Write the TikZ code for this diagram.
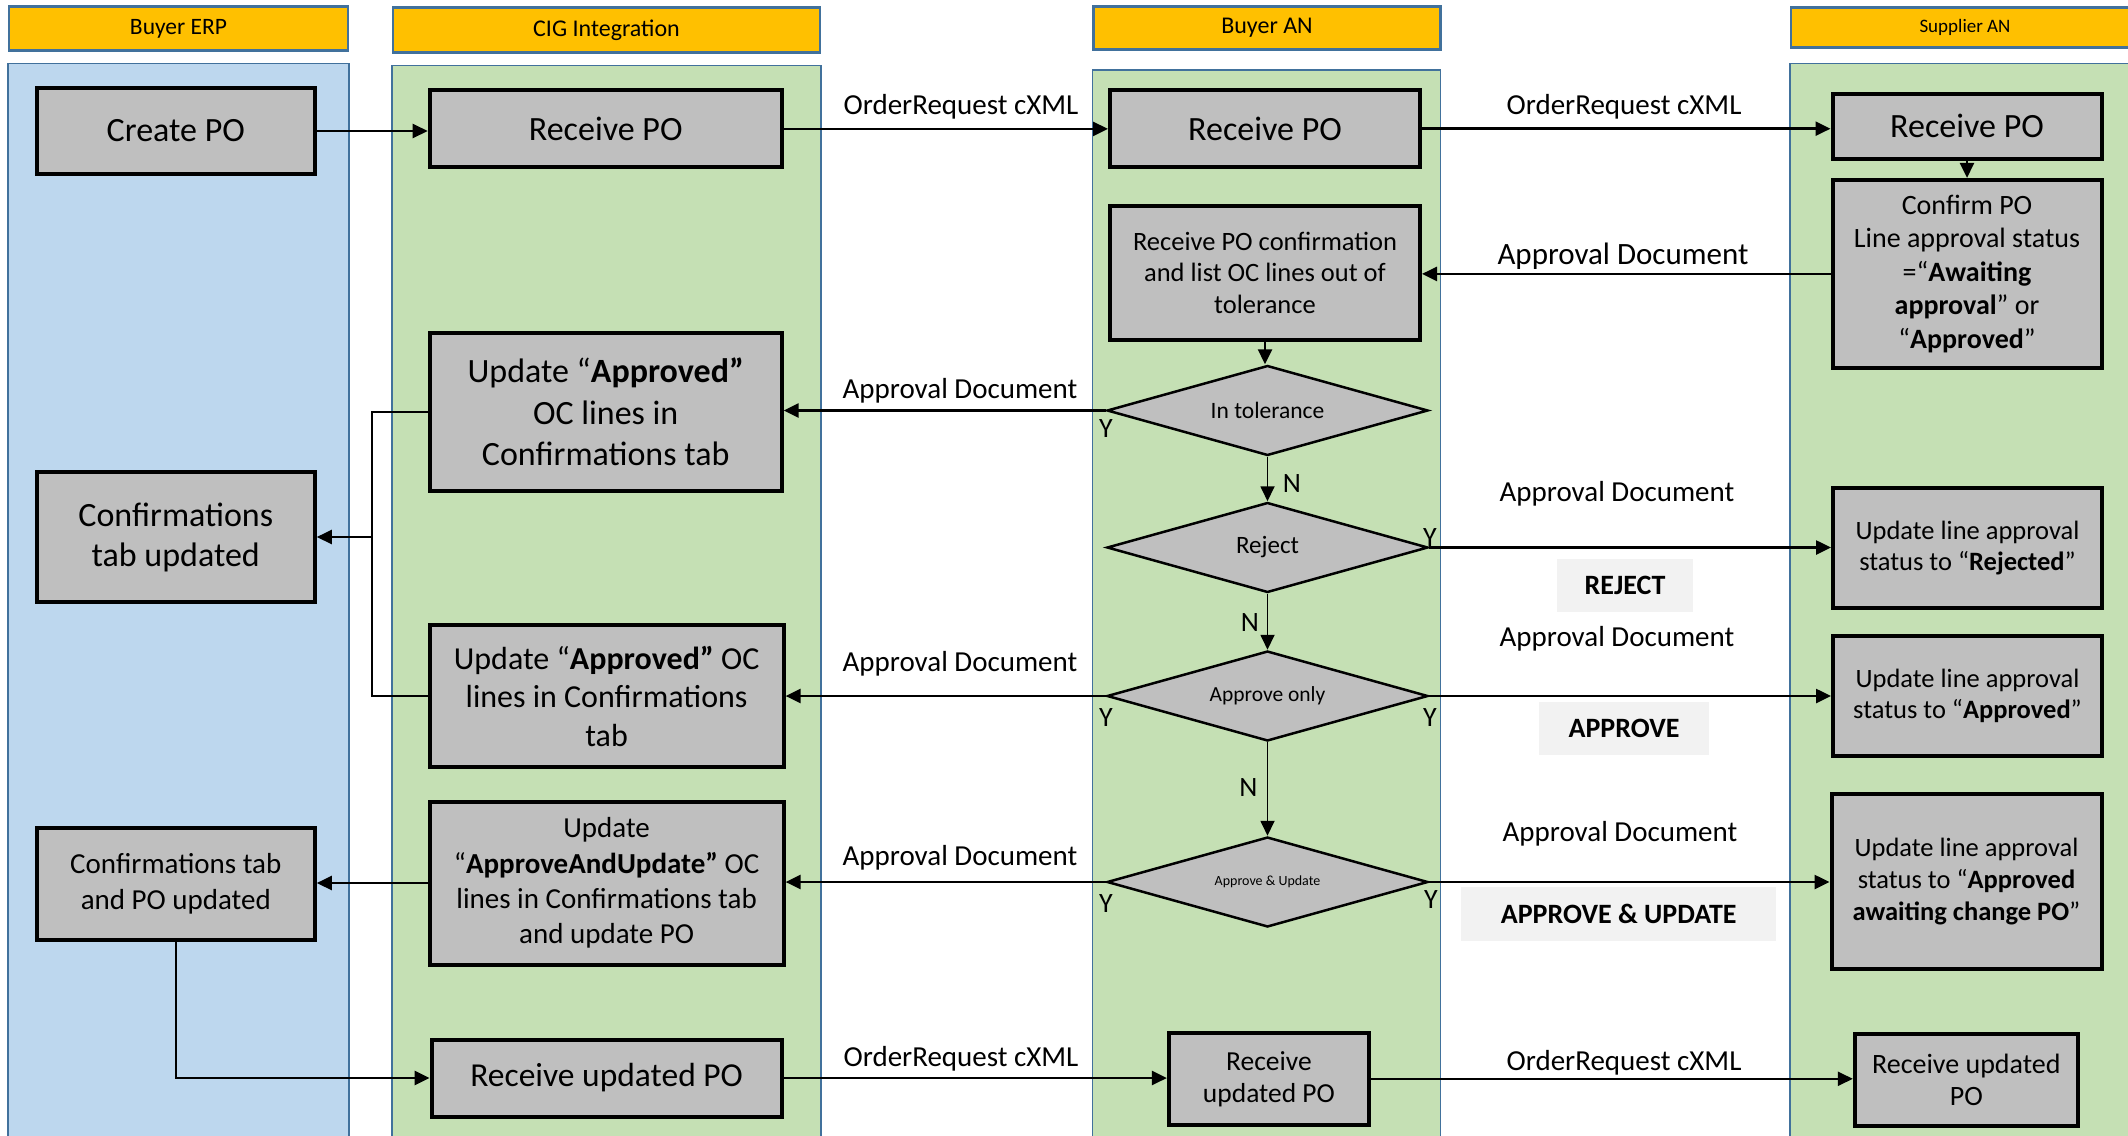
\documentclass[tikz,border=0pt]{standalone}
\usepackage{fontspec}
\setmainfont{Carlito}
\usetikzlibrary{arrows.meta,shapes.geometric}
\definecolor{erpblue}{HTML}{BDD7EE}
\definecolor{lanegreen}{HTML}{C5E0B4}
\definecolor{lanebd}{HTML}{41719C}
\definecolor{hdrfill}{HTML}{FFC000}
\definecolor{boxgray}{HTML}{BFBFBF}
\definecolor{tagfill}{HTML}{F2F2F2}
\newcommand\fsz[2]{\fontsize{#1}{#2}\selectfont}
\begin{document}
\begin{tikzpicture}[x=1pt,y=-1pt,
  box/.style={draw=black, line width=4pt, fill=boxgray, align=center, inner sep=0pt},
  dia/.style={diamond, draw=black, line width=2.5pt, fill=boxgray, inner sep=0pt, aspect=3.5, minimum width=321pt, minimum height=90pt},
  hdr/.style={draw=lanebd, line width=2.5pt, fill=hdrfill, inner sep=0pt},
  lanebox/.style={draw=lanebd, line width=1.5pt},
  arr/.style={line width=2.5pt, -{Triangle[length=15pt,width=14pt]}},
  thinarr/.style={line width=1.8pt, -{Triangle[length=15pt,width=14pt]}},
  conn/.style={line width=1.5pt},
  lbl/.style={inner sep=0pt, font=\fsz{29}{35}},
  yn/.style={inner sep=0pt, font=\fsz{28}{32}},
  tag/.style={fill=tagfill, inner sep=0pt, font=\fsz{28}{33}\bfseries},
]
\useasboundingbox (0,0) rectangle (2128,1135);
\fill[white] (0,0) rectangle (2128,1135);

% lanes
\draw[lanebox, fill=erpblue] (8,63.6) rectangle (349,1150);
\draw[lanebox, fill=lanegreen] (392,65.4) rectangle (821,1150);
\draw[lanebox, fill=lanegreen] (1092.5,69.8) rectangle (1440.6,1150);
\draw[lanebox, fill=lanegreen] (1790,63.6) rectangle (2150,1150);

% headers
\node[hdr, minimum width=339pt, minimum height=44pt, font=\fsz{23.5}{28}] (hERP) at (178.5,28.5) {Buyer ERP};
\node[hdr, minimum width=427pt, minimum height=45pt, font=\fsz{24}{28}] (hCIG) at (606.5,30) {CIG Integration};
\node[hdr, minimum width=347pt, minimum height=43pt, font=\fsz{24}{28}] (hBAN) at (1267,28.2) {Buyer AN};
\node[hdr, minimum width=348pt, minimum height=40pt, font=\fsz{19}{23}] (hSAN) at (1965,27.4) {Supplier AN};

% boxes
\node[box, minimum width=278pt, minimum height=86pt, font=\fsz{34}{41}] (createpo) at (175.8,131) {Create PO};
\node[box, minimum width=352pt, minimum height=77pt, font=\fsz{34}{41}] (cigrec) at (605.7,128.9) {Receive PO};
\node[box, minimum width=310pt, minimum height=77pt, font=\fsz{34}{41}] (anrec) at (1265,128.7) {Receive PO};
\node[box, minimum width=269pt, minimum height=65pt, font=\fsz{34}{41}] (suprec) at (1967,126.3) {Receive PO};
\node[box, minimum width=269pt, minimum height=188pt, font=\fsz{28}{33.4}] (confirm) at (1967,273.9)
  {Confirm PO\\Line approval status\\=“\textbf{Awaiting}\\\textbf{approval}” or\\“\textbf{Approved}”};
\node[box, minimum width=310pt, minimum height=134pt, font=\fsz{26.5}{31.6}] (anconf) at (1265,272.7)
  {Receive PO confirmation\\and list OC lines out of\\tolerance};
\node[box, minimum width=352pt, minimum height=158pt, font=\fsz{34}{41.5}] (upd1) at (605.7,412)
  {Update “\textbf{Approved”}\\OC lines in\\Confirmations tab};
\node[box, minimum width=278pt, minimum height=130pt, font=\fsz{34}{40}] (conftab) at (175.8,537)
  {Confirmations\\tab updated};
\node[box, minimum width=269pt, minimum height=120pt, font=\fsz{26.5}{31}] (rejbox) at (1967.5,548.4)
  {Update line approval\\status to “\textbf{Rejected}”};
\node[box, minimum width=354pt, minimum height=142pt, font=\fsz{32}{38.5}] (upd2) at (606.6,696.2)
  {Update “\textbf{Approved”} OC\\lines in Confirmations\\tab};
\node[box, minimum width=269pt, minimum height=120pt, font=\fsz{26.5}{31}] (appbox) at (1967.5,696)
  {Update line approval\\status to “\textbf{Approved}”};
\node[box, minimum width=354pt, minimum height=163pt, font=\fsz{29}{35.4}] (aau) at (606.6,883)
  {Update\\“\textbf{ApproveAndUpdate”} OC\\lines in Confirmations tab\\and update PO};
\node[box, minimum width=278pt, minimum height=112pt, font=\fsz{29}{36}] (conftabpo) at (175.8,883.5)
  {Confirmations tab\\and PO updated};
\node[box, minimum width=270pt, minimum height=175pt, font=\fsz{26.5}{32}] (aaubox) at (1966.5,881.5)
  {Update line approval\\status to “\textbf{Approved}\\\textbf{awaiting change PO}”};
\node[box, minimum width=350pt, minimum height=77pt, font=\fsz{33.5}{40}] (cigrecupd) at (606.6,1078)
  {Receive updated PO};
\node[box, minimum width=200pt, minimum height=92pt, font=\fsz{27.5}{32}] (anrecupd) at (1268.9,1078.8)
  {Receive\\updated PO};
\node[box, minimum width=223pt, minimum height=92pt, font=\fsz{28}{32}] (suprecupd) at (1966.3,1079.9)
  {Receive updated\\PO};

% decisions
\node[dia, font=\fsz{23.5}{28}] (d1) at (1267.5,410.5) {In tolerance};
\node[dia, font=\fsz{25}{28}] (d2) at (1267.5,547.5) {Reject};
\node[dia, font=\fsz{21.5}{26}] (d3) at (1267.5,696) {Approve only};
\node[dia, font=\fsz{14}{17}] (d4) at (1267.5,882) {Approve \& Update};

% labels
\node[lbl] (l1) at (961,107) {OrderRequest cXML};
\node[lbl] (l2) at (1624,107) {OrderRequest cXML};
\node[lbl, font=\fsz{31}{36}] (l3) at (1623,256) {Approval Document};
\node[lbl] (l4) at (960,391) {Approval Document};
\node[lbl] (l5) at (1617,494) {Approval Document};
\node[tag, minimum width=136pt, minimum height=53pt] (tRej) at (1625,585.5) {REJECT};
\node[lbl] (l6) at (960,663.6) {Approval Document};
\node[lbl] (l7) at (1617,638.5) {Approval Document};
\node[tag, minimum width=170pt, minimum height=53pt] (tApp) at (1624,728.7) {APPROVE};
\node[lbl] (l8) at (960,857.7) {Approval Document};
\node[lbl] (l9) at (1620,834) {Approval Document};
\node[tag, minimum width=315.5pt, minimum height=54pt] (tAU) at (1618.7,914.3) {APPROVE \& UPDATE};
\node[lbl] (l10) at (961,1059) {OrderRequest cXML};
\node[lbl] (l11) at (1624,1063) {OrderRequest cXML};

% Y / N
\node[yn] (y1) at (1106,429) {Y};
\node[yn] (n1) at (1292,484) {N};
\node[yn] (y2) at (1430,538) {Y};
\node[yn] (n2) at (1250,623) {N};
\node[yn] (y3l) at (1106,718) {Y};
\node[yn] (y3r) at (1430,718) {Y};
\node[yn] (n3) at (1248.5,788) {N};
\node[yn] (y4l) at (1106,904) {Y};
\node[yn] (y4r) at (1431,900) {Y};

% connectors
\draw[arr] (createpo.east) -- (createpo.east -| cigrec.west);
\draw[arr] (cigrec.east) -- (cigrec.east -| anrec.west);
\draw[arr] (anrec.east) -- (anrec.east -| suprec.west);
\draw[arr] (suprec.south) -- (confirm.north);
\draw[arr] (confirm.west) -- (confirm.west -| anconf.east);
\draw[arr] (anconf.south) -- (anconf.south |- d1.north);
\draw[arr] (d1.west) -- (d1.west -| upd1.east);
\draw[thinarr] (d1.south) -- (d2.north);
\draw[arr] (d2.east) -- (d2.east -| rejbox.west);
\draw[thinarr] (d2.south) -- (d3.north);
\draw[arr] (d3.west) -- (d3.west -| upd2.east);
\draw[arr] (d3.east) -- (d3.east -| appbox.west);
\draw[thinarr] (d3.south) -- (d4.north);
\draw[arr] (d4.west) -- (d4.west -| aau.east);
\draw[arr] (d4.east) -- (d4.east -| aaubox.west);
\coordinate (bus) at (372,500);
\draw[conn] (upd1.west) -- (upd1.west -| bus) -- (upd2.west -| bus) -- (upd2.west);
\draw[arr] (conftab.east -| bus) -- (conftab.east);
\draw[arr] (aau.west) -- (aau.west -| conftabpo.east);
\draw[arr] (conftabpo.south) |- (cigrecupd.west);
\draw[arr] (cigrecupd.east) -- (cigrecupd.east -| anrecupd.west);
\draw[arr] (anrecupd.east) -- (anrecupd.east -| suprecupd.west);
\end{tikzpicture}
\end{document}
